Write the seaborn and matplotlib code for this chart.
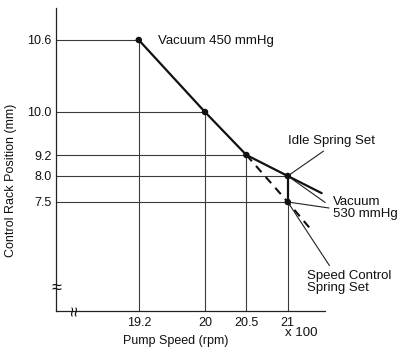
import numpy as np
import pandas as pd
import matplotlib
matplotlib.use("Agg")
import matplotlib.pyplot as plt
import seaborn as sns

# ---- data ----
# vacuum 450 mmHg governor curve (ends with the idle spring branch)
speed_450 = [19.2, 20.0, 20.5, 21.0, 21.41]
rack_450 = [10.6, 10.0, 9.2, 8.0, 7.67]

# speed control spring set (dashed)
speed_spring = [20.5, 21.0, 21.3]
rack_spring = [9.2, 7.5, 7.23]

# vacuum 530 mmHg step at 21 x 100 rpm
speed_530 = [21.0, 21.0]
rack_530 = [8.0, 7.5]

# marked points
dot_speed = [19.2, 20.0, 20.5, 21.0, 21.0]
dot_rack = [10.6, 10.0, 9.2, 8.0, 7.5]

x_ticks = [19.2, 20.0, 20.5, 21.0]
x_labels = ["19.2", "20", "20.5", "21"]
y_ticks = [10.6, 10.0, 9.2, 8.0, 7.5]
y_labels = ["10.6", "10.0", "9.2", "8.0", "7.5"]

# guide lines: how far each reference line runs
h_guide_end = [19.2, 20.0, 20.5, 21.0, 21.0]
v_guide_end = [10.6, 10.0, 9.2, 7.5]

# the y axis in the original is drawn schematic (non-linear), so use a
# piecewise-linear scale through these knots
scale_vals = np.array([6.5, 7.5, 8.0, 9.2, 10.0, 10.6, 10.87])
scale_pos = np.array([0, 109, 135, 156, 199, 271, 303], dtype=float)
# extend so values outside the range still map linearly
lo_slope = (scale_pos[1] - scale_pos[0]) / (scale_vals[1] - scale_vals[0])
hi_slope = (scale_pos[-1] - scale_pos[-2]) / (scale_vals[-1] - scale_vals[-2])
sv = np.concatenate([[scale_vals[0] - 100], scale_vals, [scale_vals[-1] + 100]])
sp = np.concatenate([[scale_pos[0] - 100 * lo_slope], scale_pos,
                     [scale_pos[-1] + 100 * hi_slope]])


def fwd(v):
    return np.interp(np.asarray(v, dtype=float), sv, sp)


def inv(p):
    return np.interp(np.asarray(p, dtype=float), sp, sv)


sns.set_theme(style="white")
plt.rcParams["font.family"] = ["Liberation Sans", "DejaVu Sans"]
plt.rcParams["font.size"] = 9

fig = plt.figure(figsize=(4.02, 3.49), dpi=100)
ax = fig.add_axes([56 / 402, 1 - 311 / 349, 269 / 402, 303 / 349])
ax.set_yscale("function", functions=(fwd, inv))
ax.set_xlim(18.2, 21.45)
ax.set_ylim(6.5, 10.87)

thin = dict(color="#3a3a3a", lw=0.8)
ax.hlines(y_ticks, 18.2, h_guide_end, **thin)
ax.vlines(x_ticks, 6.5, v_guide_end, **thin)

main = pd.DataFrame({"speed": speed_450, "rack": rack_450})
sns.lineplot(data=main, x="speed", y="rack", sort=False, estimator=None,
             color="#111111", lw=1.6, ax=ax)

spring = pd.DataFrame({"speed": speed_spring, "rack": rack_spring})
sns.lineplot(data=spring, x="speed", y="rack", sort=False, estimator=None,
             color="#111111", lw=1.5, dashes=False, linestyle=(0, (4, 3)), ax=ax)

step = pd.DataFrame({"speed": speed_530, "rack": rack_530})
sns.lineplot(data=step, x="speed", y="rack", sort=False, estimator=None,
             color="#111111", lw=1.6, ax=ax)

dots = pd.DataFrame({"speed": dot_speed, "rack": dot_rack})
sns.scatterplot(data=dots, x="speed", y="rack", color="#111111", s=22,
                edgecolor="none", zorder=5, ax=ax)

ax.set_xticks(x_ticks)
ax.set_xticklabels(x_labels)
ax.set_yticks(y_ticks)
ax.set_yticklabels(y_labels)
ax.tick_params(length=0, labelsize=9, colors="#111111")
ax.tick_params(axis="y", pad=3)
ax.tick_params(axis="x", pad=4)
ax.minorticks_off()

for s in ["top", "right"]:
    ax.spines[s].set_visible(False)
for s in ["left", "bottom"]:
    ax.spines[s].set_color("#222222")
    ax.spines[s].set_linewidth(0.9)

ax.set_xlabel("Pump Speed (rpm)", fontsize=9, color="#111111")
ax.set_ylabel("Control Rack Position (mm)", fontsize=9, color="#111111")
ax.xaxis.set_label_coords(0.446, -0.078)
ax.yaxis.set_label_coords(-0.145, 0.432)

# axis break marks
ax.text(0, 0.073, "≈", transform=ax.transAxes, ha="center", va="center",
        fontsize=13, color="#111111")
ax.text(0.074, 0, "≈", transform=ax.transAxes, ha="center", va="center",
        fontsize=13, rotation=90, color="#111111")

ax.annotate("x 100", xy=(21.0, 0), xycoords=("data", "axes fraction"),
            xytext=(13, -22), textcoords="offset pixels",
            ha="center", va="center", fontsize=9.5, color="#111111")

# annotations
ax.annotate("Vacuum 450 mmHg", xy=(19.2, 10.6), xytext=(19, -1),
            textcoords="offset pixels", ha="left", va="center",
            fontsize=9.5, color="#111111")

leader = dict(arrowstyle="-", color="#222222", lw=0.8, shrinkA=1, shrinkB=0)

ax.annotate("Idle Spring Set", xy=(21.0, 8.0), xytext=(332, 349 - 141),
            textcoords="figure pixels", ha="center", va="center",
            fontsize=9.5, color="#111111",
            arrowprops=dict(leader, relpos=(0.47, 0)))

ax.annotate("Vacuum\n530 mmHg", xy=(21.0, 8.0), xytext=(333, 349 - 208),
            textcoords="figure pixels", ha="left", va="center",
            fontsize=9.5, color="#111111", linespacing=1.1,
            arrowprops=dict(leader, relpos=(0, 0.5), shrinkA=4))
ax.annotate("", xy=(21.0, 7.5), xytext=(329, 349 - 208),
            textcoords="figure pixels",
            arrowprops=dict(leader, shrinkA=0))

ax.annotate("Speed Control\nSpring Set", xy=(21.0, 7.5), xytext=(307, 349 - 270),
            textcoords="figure pixels", ha="left", va="top",
            fontsize=9.5, color="#111111", linespacing=1.0,
            arrowprops=dict(leader, relpos=(0.3, 1), shrinkA=1))

fig.savefig("out.png", dpi=100, facecolor="white")
